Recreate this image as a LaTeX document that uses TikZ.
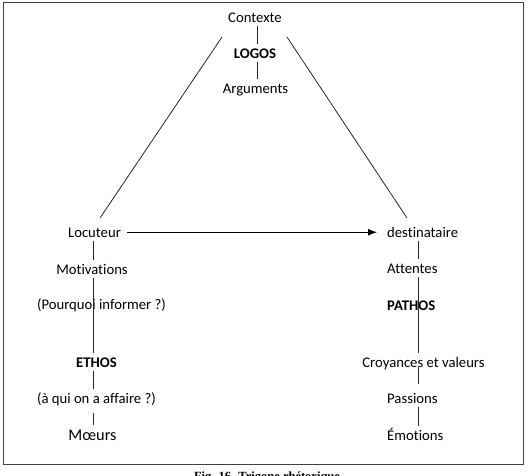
\documentclass[tikz,border=0pt]{standalone}
\usepackage{fontspec}
\setmainfont{Carlito}[Ligatures={NoCommon}]
\newfontfamily\capfont{Liberation Serif}
\usetikzlibrary{arrows.meta}
\begin{document}
\begin{tikzpicture}[x=1pt,y=-1pt,
  lbl/.style={inner xsep=0pt,inner ysep=4pt,text height=9.5pt,text depth=0pt,
    font=\fontsize{14.7}{17}\selectfont,anchor=base},
  lblw/.style={lbl,anchor=base west},
  conn/.style={line width=0.8pt,draw=black!85},
  frame/.style={line width=1.3pt,draw=black!75}]
\useasboundingbox (0,0) rectangle (528,475);
\draw[frame] (3.5,2.5) rectangle (523.5,464.5);
% column reference coordinates
\coordinate (Tx) at (257,0);
\coordinate (Lx) at (93,0);
\coordinate (Rx) at (418,0);
% top
\node[lbl] (ctx) at (255,22) {Contexte};
\node[lbl,font=\fontsize{14.7}{17}\selectfont\bfseries] (logos) at (255,58) {LOGOS};
\node[lbl] (arg) at (255.5,93) {Arguments};
% left column
\node[lbl] (loc) at (94.5,237) {Locuteur};
\node[lbl] (mot) at (92,274) {Motivations};
\node[lbl] (pq) at (101.5,309) {(Pourquoi informer ?)};
\node[lbl,font=\fontsize{14.7}{17}\selectfont\bfseries] (ethos) at (96.5,367) {ETHOS};
\node[lbl] (aqui) at (96.5,403) {(à qui on a affaire ?)};
\node[lbl,text height=11pt,font=\fontsize{16.3}{19}\selectfont] (moeurs) at (92.5,440) {Mœurs};
% right column
\node[lblw] (dest) at (387,237) {destinataire};
\node[lblw] (att) at (387,273) {Attentes};
\node[lblw,font=\fontsize{14.7}{17}\selectfont\bfseries] (pathos) at (387,310) {PATHOS};
\node[lbl] (croy) at (423.5,367) {Croyances et valeurs};
\node[lblw] (pass) at (387,403) {Passions};
\node[lblw] (emo) at (387,440) {Émotions};
% triangle sides
\coordinate (tl) at (222,37);
\coordinate (bl) at (100,218);
\coordinate (tr) at (287,37);
\coordinate (br) at (407,218);
\draw[conn] (tl) -- (bl);
\draw[conn] (tr) -- (br);
% top connectors
\draw[conn] (ctx.south -| Tx) -- (logos.north -| Tx);
\draw[conn] (logos.south -| Tx) -- (arg.north -| Tx);
% left connectors
\draw[conn] (loc.south -| Lx) -- (mot.north -| Lx);
\draw[conn] (mot.south -| Lx) -- (ethos.north -| Lx);
\draw[conn] (ethos.south -| Lx) -- (aqui.north -| Lx);
\draw[conn,shorten <=6pt] (aqui.south -| Lx) -- (moeurs.north -| Lx);
% right connectors
\draw[conn] (dest.south -| Rx) -- (att.north -| Rx);
\draw[conn] (att.south -| Rx) -- (croy.north -| Rx);
\draw[conn,shorten <=-4pt,shorten >=5pt] (croy.south -| Rx) -- (pass.north -| Rx);
\draw[conn] (pass.south -| Rx) -- (emo.north -| Rx);
% main arrow
\draw[line width=1.1pt,-{Latex[length=9pt,width=7pt]},shorten <=6pt,shorten >=10pt] (loc.east) -- (dest.west);
% caption (cut by the page edge, as in the reference)
\node[anchor=base,inner sep=0pt,font=\capfont\fontsize{12.5}{15}\selectfont\bfseries] (cap) at (267,480) {Fig. 16. Trigone rhétorique};
\end{tikzpicture}
\end{document}
